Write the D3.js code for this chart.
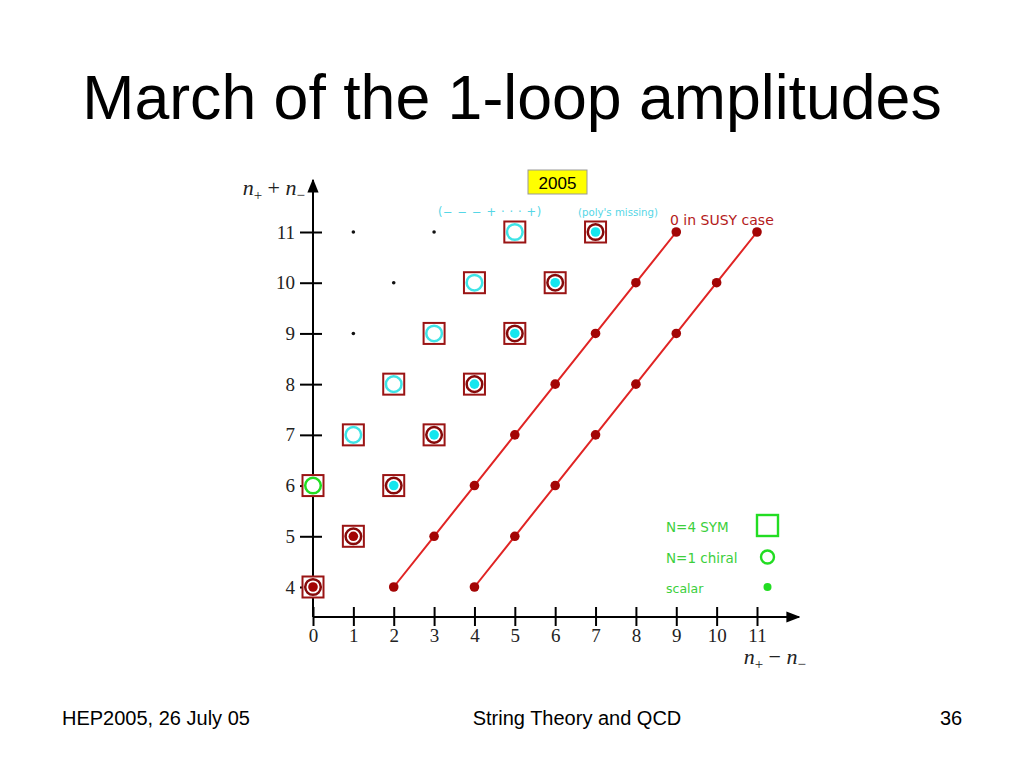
<!DOCTYPE html>
<html>
<head>
<meta charset="utf-8">
<script src="https://d3js.org/d3.v7.min.js"></script>
<style>
  html, body { margin: 0; padding: 0; background: #fff; }
  svg { display: block; }
</style>
</head>
<body>
<svg id="chart" width="1024" height="768"></svg>
<script>
// ---- data ----
const titleText = "March of the 1-loop amplitudes";
const footerLeft = "HEP2005, 26 July 05";
const footerCenter = "String Theory and QCD";
const footerRight = "36";

const xTicks = [0, 1, 2, 3, 4, 5, 6, 7, 8, 9, 10, 11];
const yTicks = [4, 5, 6, 7, 8, 9, 10, 11];

// boxed (N=4 SYM) points, by inner symbol
const scalarBoxedX = [0, 1];
const scalarBoxedY = [4, 5];
const chiralBoxedX = [0];
const chiralBoxedY = [6];
const openCyanX = [1, 2, 3, 4, 5];
const openCyanY = [7, 8, 9, 10, 11];
const filledCyanX = [2, 3, 4, 5, 6, 7];
const filledCyanY = [6, 7, 8, 9, 10, 11];

// small black dots
const blackDotX = [1, 2, 1, 3];
const blackDotY = [9, 10, 11, 11];

// two "0 in SUSY case" lines
const susy1X = [2, 3, 4, 5, 6, 7, 8, 9];
const susy1Y = [4, 5, 6, 7, 8, 9, 10, 11];
const susy2X = [4, 5, 6, 7, 8, 9, 10, 11];
const susy2Y = [4, 5, 6, 7, 8, 9, 10, 11];

const legendLabels = ["N=4 SYM", "N=1 chiral", "scalar"];

// ---- drawing ----
const svg = d3.select("#chart");
const x = d3.scaleLinear().domain([0, 11]).range([313, 757]);
const y = d3.scaleLinear().domain([4, 11]).range([587, 232]);

const DARKRED = "#9a1414";
const RING = "#860a0a";
const FILLRED = "#a30505";
const LINERED = "#e02424";
const CYAN = "#3fe3e6";
const GREEN = "#22dd22";
const GREENTXT = "#3ccf3c";

// title
svg.append("text").attr("x", 512).attr("y", 119).attr("text-anchor", "middle")
  .attr("font-family", "Liberation Sans, Arial, sans-serif").attr("font-size", 62.6)
  .attr("fill", "#000").text(titleText);

// footer
const footFont = "Liberation Sans, Arial, sans-serif";
svg.append("text").attr("x", 62).attr("y", 725).attr("font-family", footFont)
  .attr("font-size", 20).text(footerLeft);
svg.append("text").attr("x", 577).attr("y", 725).attr("text-anchor", "middle")
  .attr("font-family", footFont).attr("font-size", 20).text(footerCenter);
svg.append("text").attr("x", 940).attr("y", 725).attr("font-family", footFont)
  .attr("font-size", 20).text(footerRight);

// axes
const serif = "Liberation Serif, 'DejaVu Serif', serif";
const axY0 = 617, axX0 = 313;

svg.append("defs").append("marker")
  .attr("id", "arrow").attr("viewBox", "0 0 10 10").attr("refX", 9).attr("refY", 5)
  .attr("markerWidth", 14).attr("markerHeight", 14).attr("markerUnits", "userSpaceOnUse")
  .attr("orient", "auto")
  .append("path").attr("d", "M0,1 L10,5 L0,9 Z").attr("fill", "#000");

const gx = svg.append("g").attr("transform", `translate(0,${axY0})`)
  .call(d3.axisBottom(x).tickValues(xTicks).tickSize(9).tickPadding(3).tickFormat(d3.format("d")));
gx.select(".domain").remove();
gx.selectAll(".tick line").attr("y1", -10).attr("y2", 9).attr("stroke", "#000").attr("stroke-width", 2);
gx.selectAll(".tick text").attr("font-family", serif).attr("font-size", 19).attr("fill", "#222");

const gy = svg.append("g").attr("transform", `translate(${axX0},0)`)
  .call(d3.axisLeft(y).tickValues(yTicks).tickSize(13).tickPadding(5).tickFormat(d3.format("d")));
gy.select(".domain").remove();
gy.selectAll(".tick line").attr("x1", 9).attr("x2", -13).attr("stroke", "#000").attr("stroke-width", 2);
gy.selectAll(".tick text").attr("font-family", serif).attr("font-size", 19).attr("fill", "#222");

svg.append("line").attr("x1", axX0).attr("y1", axY0).attr("x2", 799).attr("y2", axY0)
  .attr("stroke", "#000").attr("stroke-width", 2).attr("marker-end", "url(#arrow)");
svg.append("line").attr("x1", axX0).attr("y1", axY0).attr("x2", axX0).attr("y2", 180)
  .attr("stroke", "#000").attr("stroke-width", 2).attr("marker-end", "url(#arrow)");

// axis titles
function axisTitle(xp, yp, op) {
  const t = svg.append("text").attr("x", xp).attr("y", yp).attr("text-anchor", "end")
    .attr("font-family", serif).attr("font-size", 22).attr("fill", "#222");
  t.append("tspan").attr("font-style", "italic").text("n");
  t.append("tspan").attr("font-size", 15).attr("dy", 5).text("+");
  t.append("tspan").attr("dy", -5).text(" " + op + " ");
  t.append("tspan").attr("font-style", "italic").text("n");
  t.append("tspan").attr("font-size", 15).attr("dy", 5).text("\u2212");
}
axisTitle(305, 195, "+");
axisTitle(806, 664, "\u2212");

// SUSY lines
function susyLine(xs, ys) {
  const pts = xs.map((d, i) => [x(d), y(ys[i])]);
  svg.append("path").attr("d", d3.line()(pts)).attr("fill", "none")
    .attr("stroke", LINERED).attr("stroke-width", 2);
  svg.append("g").selectAll("circle").data(pts).join("circle")
    .attr("cx", d => d[0]).attr("cy", d => d[1]).attr("r", 4.8).attr("fill", FILLRED);
}
susyLine(susy1X, susy1Y);
susyLine(susy2X, susy2Y);

// boxes
const allBoxX = [].concat(scalarBoxedX, chiralBoxedX, openCyanX, filledCyanX);
const allBoxY = [].concat(scalarBoxedY, chiralBoxedY, openCyanY, filledCyanY);
svg.append("g").selectAll("rect").data(allBoxX.map((d, i) => [d, allBoxY[i]])).join("rect")
  .attr("x", d => x(d[0]) - 10.5).attr("y", d => y(d[1]) - 10.5)
  .attr("width", 21).attr("height", 21)
  .attr("fill", "#fff").attr("stroke", DARKRED).attr("stroke-width", 2);

function rings(xs, ys, stroke, fill, innerFill) {
  const pts = xs.map((d, i) => [x(d), y(ys[i])]);
  const g = svg.append("g");
  g.selectAll("circle.ring").data(pts).join("circle").attr("class", "ring")
    .attr("cx", d => d[0]).attr("cy", d => d[1]).attr("r", 7.8)
    .attr("fill", fill).attr("stroke", stroke).attr("stroke-width", 2.5);
  if (innerFill) {
    g.selectAll("circle.inner").data(pts).join("circle").attr("class", "inner")
      .attr("cx", d => d[0]).attr("cy", d => d[1]).attr("r", 4.8).attr("fill", innerFill);
  }
}
rings(scalarBoxedX, scalarBoxedY, RING, "#fff", FILLRED);
rings(chiralBoxedX, chiralBoxedY, GREEN, "#fff", null);
rings(openCyanX, openCyanY, CYAN, "#fff", null);
rings(filledCyanX, filledCyanY, RING, "#fff", "#14e6ee");

// black dots
svg.append("g").selectAll("circle").data(blackDotX.map((d, i) => [d, blackDotY[i]])).join("circle")
  .attr("cx", d => x(d[0])).attr("cy", d => y(d[1])).attr("r", 1.8).attr("fill", "#111");

// 2005 label
svg.append("rect").attr("x", 528).attr("y", 170).attr("width", 59).attr("height", 24)
  .attr("fill", "#ffff00").attr("stroke", "#999").attr("stroke-width", 1);
svg.append("text").attr("x", 557.5).attr("y", 188.5).attr("text-anchor", "middle")
  .attr("font-family", "Liberation Sans, Arial, sans-serif").attr("font-size", 17)
  .attr("fill", "#000").text("2005");

// cyan annotations
svg.append("text").attr("x", 438).attr("y", 216)
  .attr("font-family", "DejaVu Sans, sans-serif").attr("font-size", 11.5).attr("fill", "#55d6e6")
  .attr("letter-spacing", 0.6)
  .text("(\u2212 \u2212  \u2212 + \u00b7 \u00b7 \u00b7 +)");
svg.append("text").attr("x", 578).attr("y", 216)
  .attr("font-family", "DejaVu Sans, sans-serif").attr("font-size", 10.2).attr("fill", "#55d6e6")
  .text("(poly's missing)");

// 0 in SUSY case
svg.append("text").attr("x", 670).attr("y", 225)
  .attr("font-family", "DejaVu Sans, sans-serif").attr("font-size", 14).attr("fill", "#b41a1a")
  .text("0 in SUSY case");

// legend
const legY = [532, 563, 593];
const legSize = [13.5, 13.5, 12.5];
legendLabels.forEach((t, i) => {
  svg.append("text").attr("x", 666).attr("y", legY[i])
    .attr("font-family", "DejaVu Sans, sans-serif").attr("font-size", legSize[i])
    .attr("fill", GREENTXT).text(t);
});
svg.append("rect").attr("x", 757).attr("y", 515).attr("width", 21).attr("height", 21)
  .attr("fill", "none").attr("stroke", GREEN).attr("stroke-width", 2.4);
svg.append("circle").attr("cx", 767.5).attr("cy", 557).attr("r", 6.5)
  .attr("fill", "none").attr("stroke", GREEN).attr("stroke-width", 2.4);
svg.append("circle").attr("cx", 767.5).attr("cy", 587).attr("r", 4).attr("fill", GREEN);
</script>
</body>
</html>
